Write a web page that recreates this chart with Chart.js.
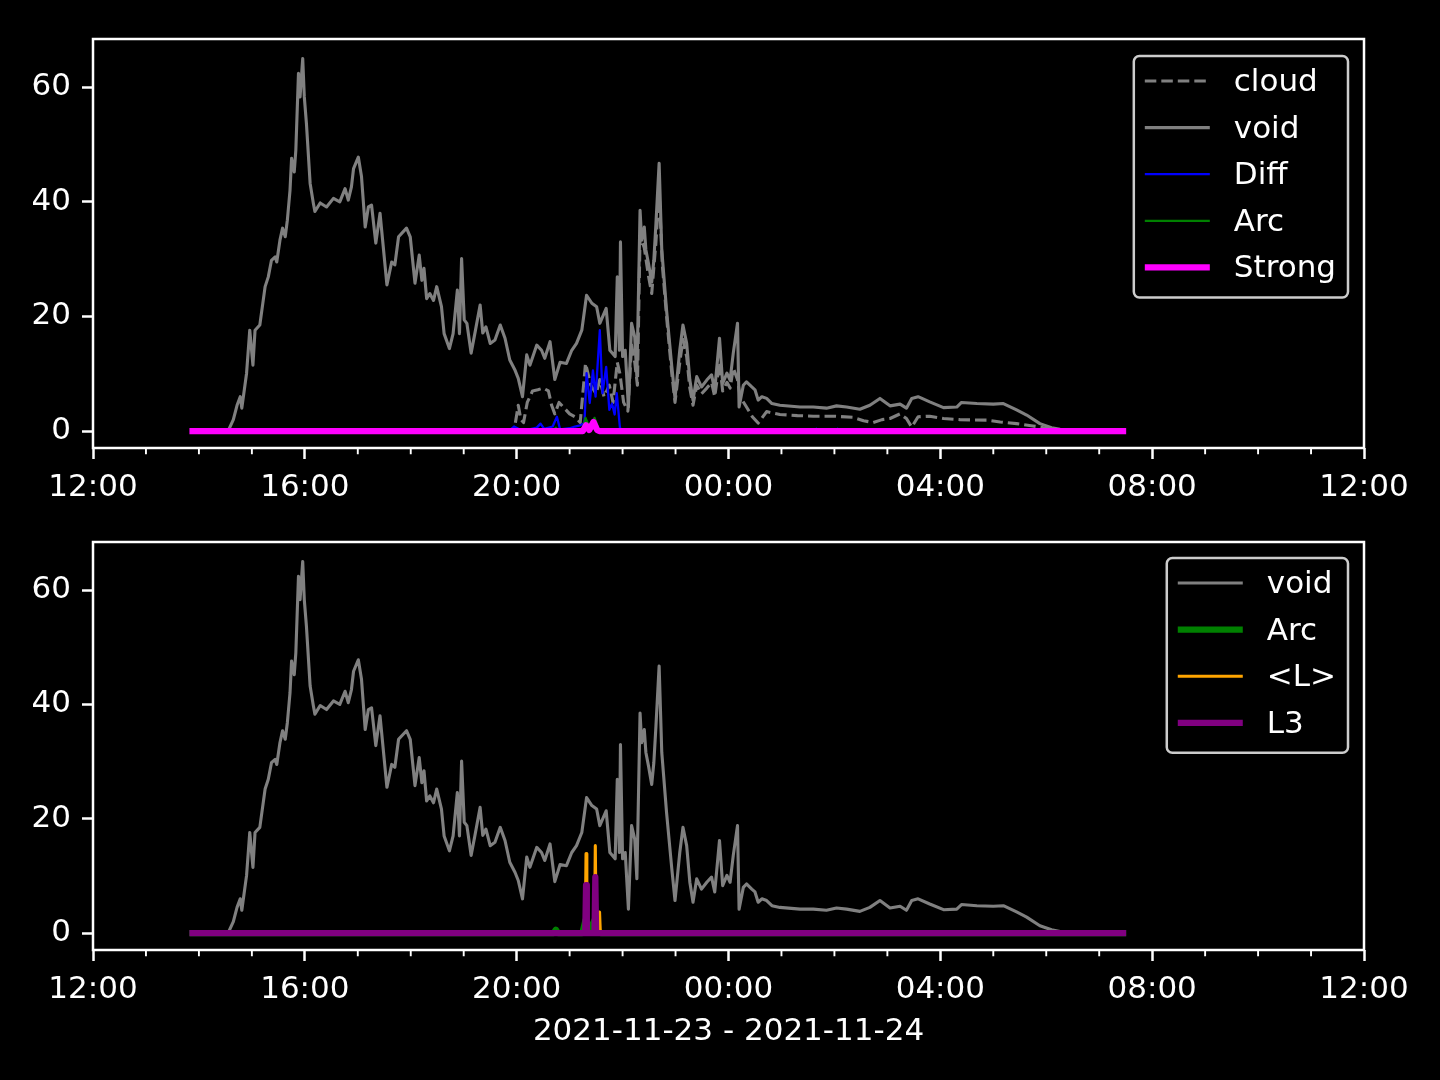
<!DOCTYPE html>
<html>
<head>
<meta charset="utf-8">
<script src="https://cdn.jsdelivr.net/npm/chart.js@4.4.1/dist/chart.umd.min.js"></script>
<style>
  html, body { margin: 0; padding: 0; background: #000; }
  canvas { display: block; }
</style>
</head>
<body>
<canvas id="top" width="1440" height="540"></canvas>
<canvas id="bottom" width="1440" height="540"></canvas>
<script>
// time in hours after 2021-11-23 12:00
const xTickHours = [0, 4, 8, 12, 16, 20, 24];
const xTickLabels = ['12:00', '16:00', '20:00', '00:00', '04:00', '08:00', '12:00'];
const yTicks = [0, 20, 40, 60];
const xLabel = '2021-11-23 - 2021-11-24';

const voidT = [
  1.88, 2.55, 2.65, 2.72, 2.78, 2.81, 2.90, 2.96, 3.02, 3.06,
  3.15, 3.25, 3.31, 3.37, 3.44, 3.47, 3.53, 3.58, 3.63, 3.67,
  3.72, 3.75, 3.80, 3.83, 3.88, 3.91, 3.96, 3.99, 4.03, 4.10,
  4.16, 4.19, 4.29, 4.41, 4.54, 4.66, 4.76, 4.82, 4.88, 4.92,
  5.01, 5.07, 5.14, 5.20, 5.26, 5.34, 5.42, 5.55, 5.64, 5.70,
  5.77, 5.92, 5.99, 6.08, 6.16, 6.21, 6.25, 6.30, 6.36, 6.43,
  6.49, 6.58, 6.63, 6.73, 6.80, 6.88, 6.92, 6.96, 7.01, 7.06,
  7.14, 7.21, 7.31, 7.36, 7.42, 7.50, 7.59, 7.69, 7.78, 7.87,
  7.97, 8.03, 8.11, 8.19, 8.25, 8.38, 8.47, 8.53, 8.63, 8.72,
  8.82, 8.94, 9.04, 9.13, 9.23, 9.32, 9.42, 9.51, 9.57, 9.69,
  9.76, 9.86, 9.90, 9.94, 9.96, 10.00, 10.05, 10.11, 10.17, 10.23,
  10.27, 10.33, 10.36, 10.41, 10.44, 10.49, 10.55, 10.59, 10.63, 10.69,
  10.74, 10.83, 10.93, 10.99, 11.08, 11.14, 11.21, 11.27, 11.33, 11.40,
  11.49, 11.59, 11.68, 11.74, 11.83, 11.89, 11.97, 12.03, 12.09, 12.17,
  12.20, 12.28, 12.34, 12.44, 12.50, 12.56, 12.63, 12.72, 12.82, 12.97,
  13.35, 13.60, 13.85, 14.04, 14.23, 14.48, 14.67, 14.86, 15.05, 15.24,
  15.36, 15.46, 15.58, 15.80, 16.06, 16.31, 16.40, 16.69, 17.00, 17.19,
  17.44, 17.63, 17.88, 18.10, 18.26, 18.45, 19.45
];
const voidV = [
  0, 0, 2, 4.5, 6.0, 4, 10.1, 17.6, 11.5, 17.6,
  18.5, 25.2, 26.9, 29.8, 30.4, 29.5, 33.3, 35.4, 33.9, 36.8,
  42, 47.6, 45.2, 49, 62.4, 58.3, 65, 58.3, 53.7, 43.2,
  39.8, 38.3, 39.8, 39.1, 40.6, 40, 42.3, 40.3, 42.6, 45.8,
  47.8, 44.4, 35.6, 39.1, 39.4, 32.8, 38, 25.5, 29.5, 29,
  33.9, 35.4, 33.9, 25.8, 30.7, 26.3, 28.4, 23.1, 24, 22.8,
  25.2, 21.7, 17, 14.4, 17, 24.6, 17, 30.1, 19.4, 18.8,
  13.6, 17, 22, 17.1, 18.2, 15.3, 15.9, 18.5, 16.2, 12.4,
  10.6, 9.2, 6, 13.3, 11.5, 15, 14.1, 12.7, 15.6, 9,
  12, 11.8, 14.1, 15.3, 17.6, 23.7, 22.3, 21.7, 18.8, 21.4,
  14.1, 13, 26.9, 14.1, 33, 13, 14.1, 4.2, 18.8, 16.4,
  9.5, 38.5, 33.3, 35.6, 31.6, 29.2, 26, 29.8, 36.2, 46.7,
  31.6, 21.1, 11.2, 5.7, 14.1, 18.5, 15.3, 8.9, 5.4, 9.5,
  7.7, 8.9, 9.8, 7.2, 16.2, 8.3, 10.1, 8.9, 13.6, 18.8,
  4.2, 8, 8.6, 7.7, 7.2, 5.4, 6, 5.7, 4.8, 4.5,
  4.2, 4.2, 4, 4.4, 4.2, 3.8, 4.5, 5.7, 4.4, 4.7,
  4, 5.7, 6, 5.1, 4.1, 4.2, 5, 4.8, 4.7, 4.8,
  3.7, 2.8, 1.3, 0.6, 0.3, 0, 0
];

const cloudT = [
  1.88, 7.95, 8.03, 8.08, 8.13, 8.20, 8.30, 8.40, 8.50, 8.60,
  8.66, 8.72, 8.80, 8.90, 9.00, 9.10, 9.20, 9.30, 9.40, 9.50,
  9.57, 9.65, 9.75, 9.82, 9.90, 9.95, 10.02, 10.10, 10.17, 10.23,
  10.28, 10.33, 10.41, 10.49, 10.55, 10.63, 10.69, 10.75, 10.84, 10.93,
  10.99, 11.08, 11.14, 11.21, 11.27, 11.33, 11.40, 11.49, 11.59, 11.68,
  11.74, 11.83, 11.89, 11.97, 12.03, 12.09, 12.17, 12.22, 12.34, 12.45,
  12.56, 12.72, 12.97, 13.30, 13.60, 14.00, 14.35, 14.55, 14.73, 14.90,
  15.05, 15.24, 15.36, 15.46, 15.58, 15.80, 16.06, 16.37, 16.90, 17.13,
  17.44, 17.75, 18.07, 18.30, 19.45
];
const cloudV = [
  0, 0, 4.5, 2.0, 1.5, 5, 7, 7.2, 7.5, 7.0,
  4.5, 3.0, 5.0, 4.0, 3.0, 2.5, 1.5, 11.8, 8, 6.5,
  9, 6, 8, 5, 12, 10, 5, 3.5, 15, 12,
  8, 34, 32, 27, 24, 33, 42, 29, 19, 10,
  5, 12, 16, 13, 7.5, 4.5, 8, 6.5, 7.5, 8.5,
  6, 12, 7, 8.5, 7.5, 11, 9, 6, 4.2, 2.5,
  1.4, 3.4, 2.9, 2.7, 2.6, 2.6, 2.4, 1.8, 1.5, 2.0,
  2.2, 3.0, 2.2, 0.7, 2.5, 2.6, 2.2, 2.0, 1.9, 1.6,
  1.3, 0.9, 0.4, 0, 0
];

const diffT = [
  1.88, 7.85, 7.95, 8.05, 8.20, 8.38, 8.45, 8.52, 8.68, 8.76,
  8.82, 9.00, 9.10, 9.20, 9.28, 9.32, 9.38, 9.44, 9.49, 9.57,
  9.62, 9.69, 9.75, 9.80, 9.85, 9.89, 9.95, 10.00, 13.62, 13.66,
  13.70, 14.02, 14.06, 14.10, 19.45
];
const diffV = [
  0, 0, 0.8, 0.3, 0.2, 0.6, 1.3, 0.4, 0.8, 2.5,
  0.3, 0.5, 0.8, 1.0, 1.4, 10.1, 4.9, 10.6, 6, 17.6,
  6.6, 11.2, 3.7, 4.8, 2.9, 6.6, 0.6, 0, 0, 0.4,
  0, 0, 0.4, 0, 0
];

const arcT = [1.88, 8.70, 8.74, 8.78, 9.24, 9.30, 9.38, 9.47, 9.55, 9.60, 19.45];
const arcV = [0, 0, 0.6, 0, 0, 2.3, 0.5, 2.3, 0.3, 0, 0];

const strongT = [1.88, 9.25, 9.31, 9.37, 9.45, 9.52, 9.56, 19.45];
const strongV = [0, 0, 1.0, 0.2, 1.6, 0.2, 0, 0];

const meanLT = [1.88, 9.295, 9.31, 9.325, 9.47, 9.485, 9.50, 9.55, 9.565, 9.58, 19.45];
const meanLV = [0, 0, 13.9, 0, 0, 15.3, 0, 0, 3.7, 0, 0];

const l3T = [1.88, 9.295, 9.31, 9.325, 9.47, 9.485, 9.50, 19.45];
const l3V = [0, 0, 8.4, 0, 0, 9.8, 0, 0];

const FONT = '"DejaVu Sans", sans-serif';
const pts = (t, v) => t.map((x, i) => ({ x, y: v[i] }));

const line = (label, t, v, color, width, dash) => ({
  label,
  data: pts(t, v),
  borderColor: color,
  borderWidth: width,
  borderDash: dash || [],
  borderJoinStyle: 'round',
  borderCapStyle: dash ? 'butt' : 'square',
  pointRadius: 0,
  tension: 0,
  fill: false
});

// first dataset in legend is drawn first (underneath), like matplotlib
const stackOrder = (sets) => sets.map((d, i) => Object.assign(d, { order: sets.length - 1 - i }));

const frame = {
  id: 'frame',
  afterDatasetsDraw(chart, args, opts) {
    const { ctx, chartArea: a, scales: { x } } = chart;
    ctx.save();
    ctx.strokeStyle = '#fff';
    ctx.lineWidth = 1.9;
    for (let h = 1; h < 24; h++) {
      if (h % 4 === 0) continue;
      const px = x.getPixelForValue(h);
      ctx.beginPath();
      ctx.moveTo(px, a.bottom);
      ctx.lineTo(px, a.bottom + 6.25);
      ctx.stroke();
    }
    ctx.lineWidth = 2.5;
    ctx.strokeRect(a.left, a.top, a.right - a.left, a.bottom - a.top);
    if (opts.xlabel) {
      ctx.fillStyle = '#fff';
      ctx.font = `31px ${FONT}`;
      ctx.textAlign = 'center';
      ctx.textBaseline = 'alphabetic';
      ctx.fillText(opts.xlabel, (a.left + a.right) / 2, a.bottom + 90);
    }
    ctx.restore();
  }
};

const boxLegend = {
  id: 'boxLegend',
  afterDraw(chart, args, opts) {
    const { ctx, chartArea: a } = chart;
    const sets = chart.data.datasets;
    ctx.save();
    ctx.font = `31px ${FONT}`;
    const textW = Math.max(...sets.map(d => ctx.measureText(d.label).width));
    const right = a.right - 16;
    const left = right - textW - 112;
    const top = a.top + opts.top;
    const rowH = 46.6;
    const h = 25 + (sets.length - 1) * rowH + 30;
    ctx.beginPath();
    ctx.roundRect(left, top, right - left, h, 5.6);
    ctx.fillStyle = 'rgba(0,0,0,0.8)';
    ctx.fill();
    ctx.lineWidth = 2.5;
    ctx.strokeStyle = '#cccccc';
    ctx.stroke();
    sets.forEach((d, i) => {
      const cy = top + 25 + i * rowH;
      ctx.beginPath();
      ctx.setLineDash(d.borderDash);
      ctx.lineCap = 'butt';
      ctx.lineWidth = d.borderWidth;
      ctx.strokeStyle = d.borderColor;
      ctx.moveTo(left + 11, cy);
      ctx.lineTo(left + 76, cy);
      ctx.stroke();
      ctx.setLineDash([]);
      ctx.fillStyle = '#fff';
      ctx.textBaseline = 'alphabetic';
      ctx.fillText(d.label, left + 100, cy + 10);
    });
    ctx.restore();
  }
};

const tickFont = { family: FONT, size: 31 };
const tickGrid = { drawOnChartArea: false, tickLength: 11, tickWidth: 2.5, tickColor: '#fff' };

const makeChart = (id, datasets, padTop, xHeight, legendTop, xlabel) => new Chart(document.getElementById(id), {
  type: 'line',
  data: { datasets: stackOrder(datasets) },
  options: {
    responsive: false,
    animation: false,
    events: [],
    layout: { padding: { top: padTop, right: 76, left: 0, bottom: 0 } },
    scales: {
      x: {
        type: 'linear',
        min: 0,
        max: 24,
        afterBuildTicks: s => { s.ticks = xTickHours.map(v => ({ value: v })); },
        ticks: {
          color: '#fff',
          font: tickFont,
          padding: 10,
          maxRotation: 0,
          autoSkip: false,
          callback: (v, i) => xTickLabels[i]
        },
        grid: tickGrid,
        border: { display: false },
        afterFit: s => { s.height = xHeight; s.paddingLeft = 0; s.paddingRight = 0; }
      },
      y: {
        type: 'linear',
        min: -2.95,
        max: 68.4,
        afterBuildTicks: s => { s.ticks = yTicks.map(v => ({ value: v })); },
        ticks: { color: '#fff', font: tickFont, padding: 11 },
        grid: tickGrid,
        border: { display: false },
        afterFit: s => { s.width = 93; s.paddingTop = 0; s.paddingBottom = 0; }
      }
    },
    plugins: {
      legend: { display: false },
      tooltip: { enabled: false },
      frame: { xlabel },
      boxLegend: { top: legendTop }
    }
  },
  plugins: [frame, boxLegend]
});

makeChart('top', [
  line('cloud', cloudT, cloudV, '#808080', 3.1, [11.5, 5]),
  line('void', voidT, voidV, '#808080', 3.1),
  line('Diff', diffT, diffV, '#0000ff', 2.3),
  line('Arc', arcT, arcV, '#008000', 2.3),
  line('Strong', strongT, strongV, '#ff00ff', 6.25)
], 39, 92, 17, null);

makeChart('bottom', [
  line('void', voidT, voidV, '#808080', 3.1),
  line('Arc', arcT, arcV, '#008000', 6.25),
  line('<L>', meanLT, meanLV, '#ffa500', 3.1),
  line('L3', l3T, l3V, '#800080', 6.25)
], 2, 130, 16, xLabel);
</script>
</body>
</html>
